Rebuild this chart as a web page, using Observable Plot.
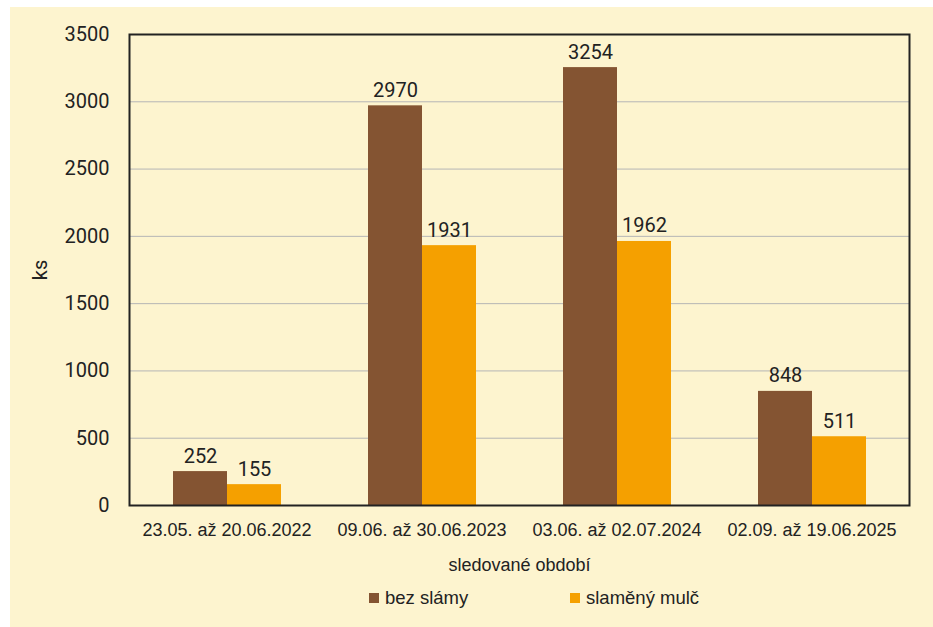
<!DOCTYPE html>
<html><head><meta charset="utf-8">
<script src="https://cdn.jsdelivr.net/npm/d3@7"></script>
<script src="https://cdn.jsdelivr.net/npm/@observablehq/plot@0.6"></script>
<style>
body{margin:0;background:#fff;width:933px;height:627px;position:relative;overflow:hidden}
#bg{position:absolute;left:10px;top:7px;width:923px;height:620px;background:#fdf4cf}
#chart{position:absolute;left:0;top:0}
#legend{position:absolute;top:586px;left:369px;display:flex;font-family:"Liberation Sans Narrow","Arial Narrow",sans-serif;font-size:18.5px;color:#222}
#legend .item{width:201px;display:flex;align-items:center;height:24px}
#legend .sw{width:10px;height:10px;margin-right:6px;flex:none}
</style></head>
<body>
<div id="bg"></div>
<div id="chart"></div>
<div id="legend"></div>
<script>
const periods = ["23.05. až 20.06.2022", "09.06. až 30.06.2023", "03.06. až 02.07.2024", "02.09. až 19.06.2025"];
const series = ["bez slámy", "slaměný mulč"];
const bezSlamy = [252, 2970, 3254, 848];
const slamenyMulc = [155, 1931, 1962, 511];
const yTicks = [0, 500, 1000, 1500, 2000, 2500, 3000, 3500];
const colors = ["#845432", "#f5a000"];

const data = periods.flatMap((p, i) => [
  {period: p, series: series[0], value: bezSlamy[i]},
  {period: p, series: series[1], value: slamenyMulc[i]}
]);

const narrow = "Liberation Sans Narrow, Arial Narrow, sans-serif";

const chart = Plot.plot({
  width: 933, height: 585,
  marginLeft: 128, marginRight: 23, marginTop: 34, marginBottom: 80,
  style: {background: "transparent", fontFamily: "Roboto, sans-serif", color: "#222", overflow: "visible"},
  fx: {domain: periods, padding: 0, label: null, axis: null},
  x: {domain: series, paddingInner: 0, paddingOuter: 0.78, axis: null},
  y: {domain: [0, 3500], label: null},
  color: {domain: series, range: colors},
  marks: [
    Plot.gridY(yTicks, {stroke: "#b5b5b5", strokeOpacity: 1, strokeWidth: 1}),
    Plot.barY(data, {fx: "period", x: "series", y: "value", fill: "series", inset: 0}),
    Plot.text(data, {fx: "period", x: "series", y: "value", text: d => String(d.value), dy: -9, lineAnchor: "bottom", fontSize: 20, fill: "#222"}),
    Plot.axisY(yTicks, {tickSize: 0, tickPadding: 20, tickFormat: "d", fontSize: 20, label: "ks", labelArrow: "none", labelAnchor: "center", labelOffset: 97}),
    Plot.axisFx({anchor: "bottom", tickSize: 0, tickPadding: 18, fontSize: 18, fontFamily: narrow, label: "sledované období", labelAnchor: "center", labelOffset: 65}),
    Plot.frame({facet: "super", stroke: "#222", strokeWidth: 2})
  ]
});
document.getElementById("chart").appendChild(chart);

const legend = document.getElementById("legend");
series.forEach((s, i) => {
  const item = document.createElement("div");
  item.className = "item";
  const sw = document.createElement("span");
  sw.className = "sw";
  sw.style.background = colors[i];
  const t = document.createElement("span");
  t.textContent = s;
  item.appendChild(sw); item.appendChild(t);
  legend.appendChild(item);
});
</script>
</body></html>
